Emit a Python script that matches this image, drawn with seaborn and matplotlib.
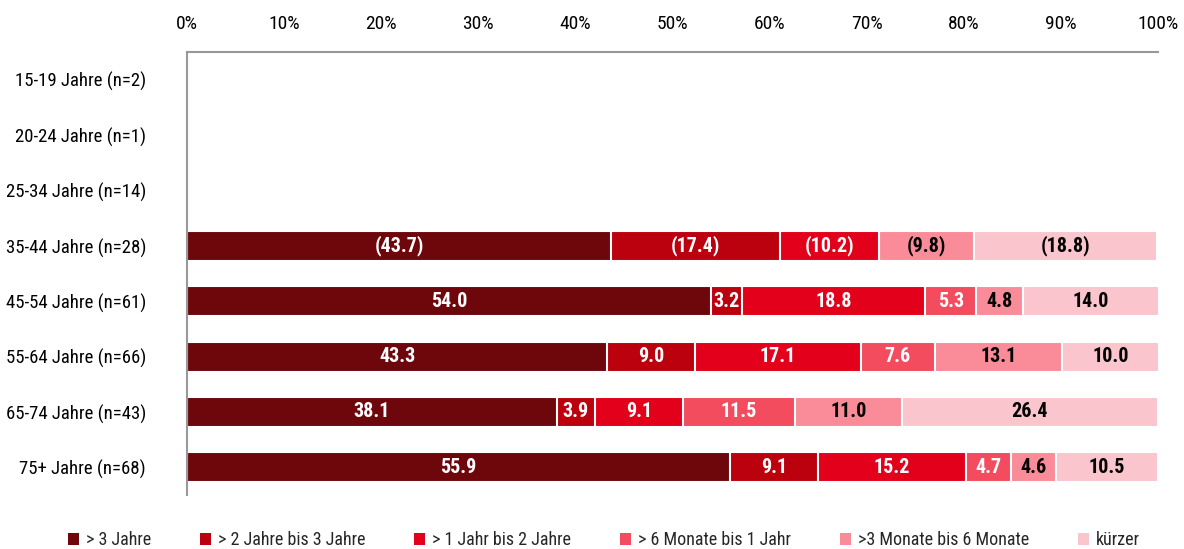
import numpy as np
import pandas as pd
import matplotlib
matplotlib.use("Agg")
import matplotlib.pyplot as plt
import seaborn as sns
from matplotlib.patches import Patch
from matplotlib import font_manager

categories = ["15-19 Jahre (n=2)", "20-24 Jahre (n=1)", "25-34 Jahre (n=14)",
              "35-44 Jahre (n=28)", "45-54 Jahre (n=61)", "55-64 Jahre (n=66)",
              "65-74 Jahre (n=43)", "75+ Jahre (n=68)"]
series = ["> 3 Jahre", "> 2 Jahre bis 3 Jahre", "> 1 Jahr bis 2 Jahre",
          "> 6 Monate bis 1 Jahr", ">3 Monate bis 6 Monate", "kürzer"]
nan = np.nan
v_3j = [nan, nan, nan, 43.7, 54.0, 43.3, 38.1, 55.9]
v_2_3j = [nan, nan, nan, 17.4, 3.2, 9.0, 3.9, 9.1]
v_1_2j = [nan, nan, nan, 10.2, 18.8, 17.1, 9.1, 15.2]
v_6m_1j = [nan, nan, nan, 0.0, 5.3, 7.6, 11.5, 4.7]
v_3_6m = [nan, nan, nan, 9.8, 4.8, 13.1, 11.0, 4.6]
v_kurz = [nan, nan, nan, 18.8, 14.0, 10.0, 26.4, 10.5]
bracketed = [False, False, False, True, False, False, False, False]

colors = ["#6E070C", "#BB000E", "#E2001A", "#F24C5E", "#F98C98", "#FBC5CD"]
text_colors = ["white", "white", "white", "white", "black", "black"]

sns.set_theme(style="white")
avail = {f.name for f in font_manager.fontManager.ttflist}
fam = "Liberation Sans"
for cand in ["Nimbus Sans Narrow", "Liberation Sans Narrow", "Arial Narrow",
             "Roboto Condensed", "Archivo Narrow", "PT Sans Narrow"]:
    if cand in avail:
        fam = cand
        break
plt.rcParams["font.family"] = [fam, "DejaVu Sans"]

df = pd.DataFrame({"cat": categories})
vals = [v_3j, v_2_3j, v_1_2j, v_6m_1j, v_3_6m, v_kurz]
for s, v in zip(series, vals):
    df[s] = v
cum = df[series].cumsum(axis=1)

fig = plt.figure(figsize=(11.84, 5.49), dpi=100)
ax = fig.add_axes([187 / 1184, 1 - 495 / 549, (1158 - 187) / 1184, (495 - 52) / 549])

for i in range(len(series) - 1, -1, -1):
    sns.barplot(data=pd.DataFrame({"cat": categories, "x": cum[series[i]]}),
                x="x", y="cat", order=categories, orient="h",
                color=colors[i], saturation=1, width=0.54,
                edgecolor="white", linewidth=1.5, ax=ax)

for r, cat in enumerate(categories):
    for i, s in enumerate(series):
        v = df.loc[r, s]
        if np.isnan(v) or v <= 0:
            continue
        center = cum.loc[r, s] - v / 2
        lab = f"{v:.1f}"
        if bracketed[r]:
            lab = f"({lab})"
        ax.text(center, r, lab, ha="center", va="center", color=text_colors[i],
                fontsize=14.5, fontweight="bold")

ax.set_xlim(0, 100)
ax.set_ylim(len(categories) - 0.5, -0.5)
ax.xaxis.tick_top()
ax.set_xticks(np.arange(0, 101, 10))
ax.set_xticklabels([f"{t}%" for t in range(0, 101, 10)])
ax.tick_params(axis="x", length=0, pad=14, labelsize=14, colors="black")
ax.tick_params(axis="y", length=0, pad=29.5, labelsize=13.5, colors="black")
for lbl in ax.get_yticklabels():
    lbl.set_horizontalalignment("right")
ax.set_xlabel("")
ax.set_ylabel("")
for sp in ["right", "bottom"]:
    ax.spines[sp].set_visible(False)
for sp in ["top", "left"]:
    ax.spines[sp].set_visible(True)
    ax.spines[sp].set_color("#999999")
    ax.spines[sp].set_linewidth(1.5)
ax.grid(False)

handles = [Patch(facecolor=c, edgecolor="none") for c in colors]
fig.legend(handles, series, loc="lower center", bbox_to_anchor=(0.51, -0.03),
           ncol=6, frameon=False, fontsize=13, handlelength=0.6, handleheight=0.6,
           handletextpad=0.4, columnspacing=2.7)

fig.savefig("out.png", dpi=100)
